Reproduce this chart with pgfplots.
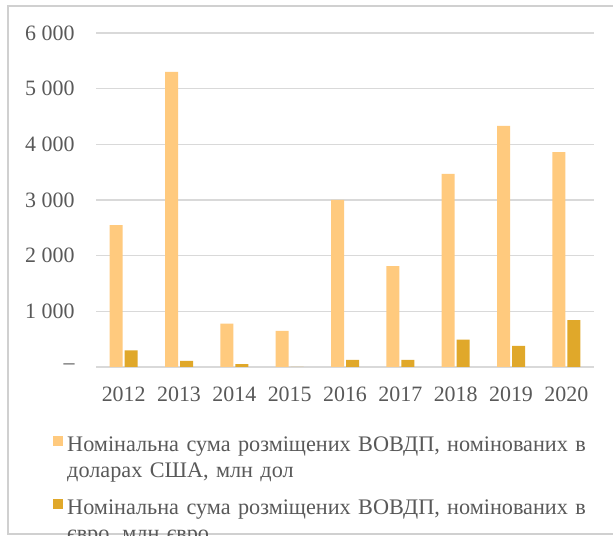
\documentclass[border=0pt]{standalone}
\usepackage{pgfplots}
\pgfplotsset{compat=1.18}
\usepackage{fontspec}
\setmainfont{Liberation Serif}
\definecolor{usd}{HTML}{FFCA7E}
\definecolor{eur}{HTML}{E0A82A}
\definecolor{gridc}{HTML}{D9D9D9}
\definecolor{txt}{HTML}{595959}
\definecolor{frame}{HTML}{D0D0D0}
\begin{document}
\begin{tikzpicture}[x=1bp,y=1bp]
\useasboundingbox (0,0) rectangle (613,536);
\clip (0,0) rectangle (613,536);
\fill[white] (0,0) rectangle (613,536);
\draw[frame, line width=2bp] (620,530) -- (8,530) -- (8,2) -- (620,2);
\begin{axis}[
  at={(96bp,169bp)}, anchor=south west,
  scale only axis, width=498bp, height=334bp,
  xmin=-0.5, xmax=8.5, ymin=0, ymax=6000,
  ybar=2bp, bar width=13bp,
  axis line style={draw=none},
  major tick length=0pt,
  ymajorgrids, grid style={gridc, line width=1.6bp},
  xtick={0,...,8},
  xticklabels={2012,2013,2014,2015,2016,2017,2018,2019,2020},
  ytick={0,1000,2000,3000,4000,5000,6000},
  yticklabels={–,1 000,2 000,3 000,4 000,5 000,6 000},
  ticklabel style={font=\fontsize{22}{24}\selectfont, text=txt},
  yticklabel style={xshift=-18bp},
  xticklabel style={yshift=-16bp},
  /pgf/number format/assume math mode=true,
  legend style={at={(axis description cs:-0.0863,-0.2066)}, anchor=north west,
    draw=none, fill=none, inner sep=0pt,
    row sep=46bp,
    nodes={text width=540bp, align=left, font=\fontsize{22.3}{25.5}\selectfont, text=txt, inner xsep=4bp, inner ysep=0pt}},
  legend cell align=left,
  legend image code/.code={\fill[#1, draw=none] (0bp,-1bp) rectangle (10bp,9bp);},
]
\addplot[fill=usd, draw=none] coordinates {(0,2550) (1,5300) (2,780) (3,650) (4,3000) (5,1810) (6,3470) (7,4330) (8,3860)};
\addplot[fill=eur, draw=none] coordinates {(0,300) (1,110) (2,50) (3,0) (4,130) (5,130) (6,490) (7,380) (8,840)};
\addlegendentry{Номінальна сума розміщених ВОВДП, номінованих в\newline доларах США, млн дол}
\addlegendentry{Номінальна сума розміщених ВОВДП, номінованих в\newline євро, млн євро}
\end{axis}
\end{tikzpicture}
\end{document}
